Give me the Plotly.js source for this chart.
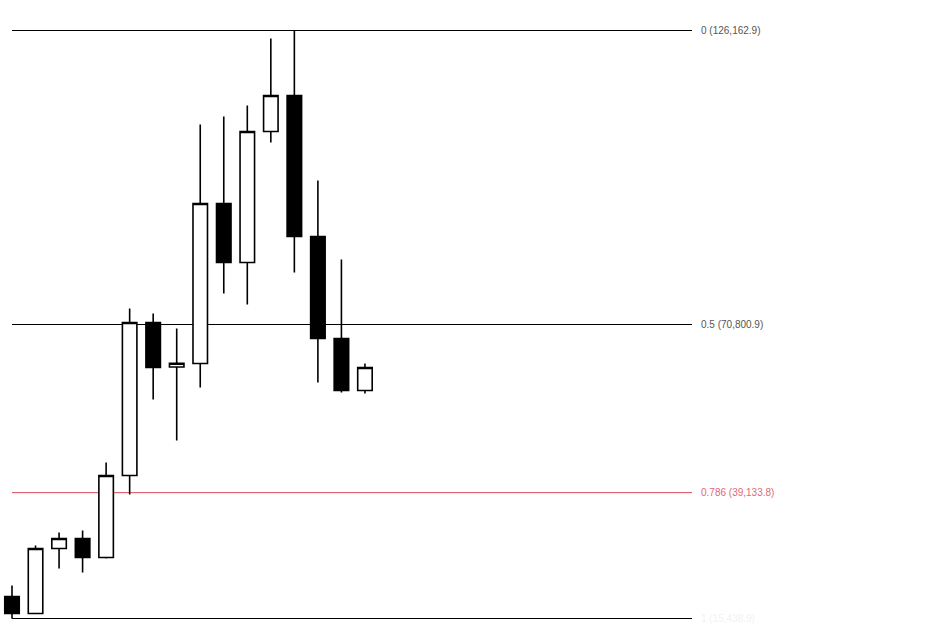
<!DOCTYPE html>
<html>
<head>
<meta charset="utf-8">
<script src="https://cdn.plot.ly/plotly-3.0.1.min.js"></script>
<style>html,body{margin:0;padding:0;background:#fff;}#chart{width:926px;height:633px;}</style>
</head>
<body>
<div id="chart"></div>
<script>
// Candle data
var candleIndex = [0,1,2,3,4,5,6,7,8,9,10,11,12,13,14,15];
var opens  = [19580, 16380, 28620, 30500, 26930, 42370, 71180, 62800, 63460, 93590, 82480, 107140, 113920, 87370, 68165, 58370];
var highs  = [21650, 29190, 31630, 32010, 44815, 73810, 72870, 70050, 108460, 109970, 112040, 124660, 126162.9, 97920, 83040, 63460];
var lows   = [15438.9, 16300, 24850, 24100, 26740, 38790, 56680, 48960, 58940, 76640, 74570, 105070, 80590, 59880, 58000, 57810];
var closes = [16380, 28620, 30500, 26930, 42370, 71180, 62700, 63500, 93590, 82480, 107140, 113920, 87370, 68165, 58370, 62700];

// Fibonacci retracement levels
var fibHigh = 126162.9;
var fibLow = 15438.9;
var fibRatios = [0, 0.5, 0.786, 1];
var fibLabels = ["0 (126,162.9)", "0.5 (70,800.9)", "0.786 (39,133.8)", "1 (15,438.9)"];
var fibPrices = fibRatios.map(function(r){ return fibHigh - r*(fibHigh - fibLow); });
var fibLineColors = ["#000000", "#000000", "#d9475a", "#000000"];
var fibTextColors = ["#555555", "#555555", "#e0687a", "#f2f2f2"];

var lineStart = 0, lineEnd = 28.9, labelX = 29.2;

var trace = {
  type: 'candlestick',
  x: candleIndex,
  open: opens, high: highs, low: lows, close: closes,
  increasing: {line: {color: '#000000', width: 1.6}, fillcolor: '#ffffff'},
  decreasing: {line: {color: '#000000', width: 1.6}, fillcolor: '#000000'},
  whiskerwidth: 0,
  hoverinfo: 'skip'
};

var shapes = [], annotations = [];
fibPrices.forEach(function(p, i){
  shapes.push({type:'line', xref:'x', yref:'y', x0:lineStart, x1:lineEnd, y0:p, y1:p,
    line:{color: fibLineColors[i], width:1}, layer:'below'});
  annotations.push({xref:'x', yref:'y', x:labelX, y:p, text:fibLabels[i], showarrow:false,
    xanchor:'left', yanchor:'middle', font:{family:'Liberation Sans, Arial, sans-serif', size:10, color: fibTextColors[i]}});
});

var pxPerUnit = (fibHigh - fibLow) / 588;
var layout = {
  width: 926, height: 633,
  margin: {l:0, r:0, t:0, b:0},
  paper_bgcolor: '#ffffff', plot_bgcolor: '#ffffff',
  showlegend: false,
  hovermode: false,
  boxgap: 0.12,
  xaxis: {range: [-12/23.53, (926-12)/23.53], visible: false, showgrid:false, zeroline:false, rangeslider:{visible:false}, fixedrange:true},
  yaxis: {range: [fibLow - 14.5*pxPerUnit, fibHigh + 30.5*pxPerUnit], visible: false, showgrid:false, zeroline:false, fixedrange:true},
  shapes: shapes,
  annotations: annotations
};

Plotly.newPlot('chart', [trace], layout, {displayModeBar:false, staticPlot:true});
</script>
</body>
</html>
